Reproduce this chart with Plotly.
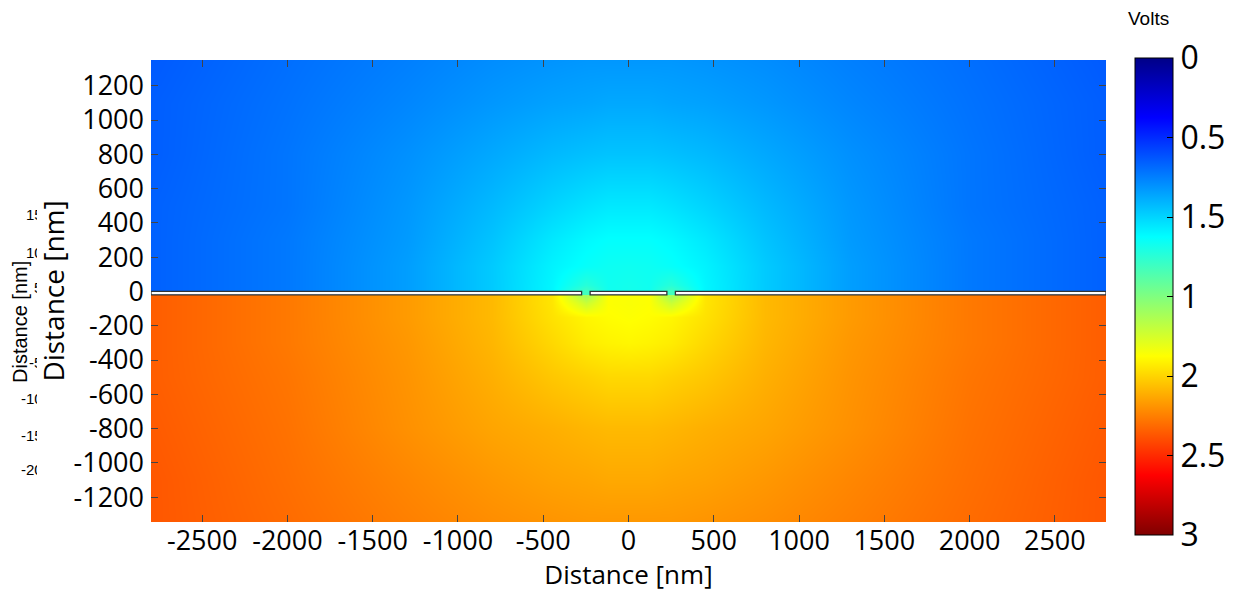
import plotly.graph_objects as go

# ---------------- data ----------------
x_nm = [-2800, -2000, -1300, -800, -450, -250, -120, 0, 120, 250, 450, 800, 1300, 2000, 2800]

# upper half (above the electrode strip), rows ordered by y ascending
y_top = [0, 40, 150, 300, 500, 800, 1100, 1350]
v_top = [
    [0.66, 0.73, 0.84, 0.97, 1.10, 1.32, 1.17, 1.18, 1.17, 1.32, 1.10, 0.97, 0.84, 0.73, 0.66],
    [0.66, 0.73, 0.84, 0.97, 1.10, 1.24, 1.17, 1.18, 1.17, 1.24, 1.10, 0.97, 0.84, 0.73, 0.66],
    [0.66, 0.73, 0.84, 0.97, 1.09, 1.14, 1.16, 1.165, 1.16, 1.14, 1.09, 0.97, 0.84, 0.73, 0.66],
    [0.66, 0.73, 0.83, 0.95, 1.06, 1.11, 1.13, 1.13, 1.13, 1.11, 1.06, 0.95, 0.83, 0.73, 0.66],
    [0.66, 0.72, 0.82, 0.92, 1.00, 1.04, 1.06, 1.06, 1.06, 1.04, 1.00, 0.92, 0.82, 0.72, 0.66],
    [0.65, 0.72, 0.80, 0.87, 0.92, 0.94, 0.95, 0.95, 0.95, 0.94, 0.92, 0.87, 0.80, 0.72, 0.65],
    [0.65, 0.71, 0.77, 0.82, 0.85, 0.86, 0.87, 0.87, 0.87, 0.86, 0.85, 0.82, 0.77, 0.71, 0.65],
    [0.64, 0.70, 0.75, 0.79, 0.81, 0.82, 0.82, 0.82, 0.82, 0.82, 0.81, 0.79, 0.75, 0.70, 0.64],
]

# lower half (below the strip), rows ordered by y ascending
y_bot = [-1350, -1100, -800, -500, -300, -150, -70, -22]
v_bot = [
    [2.37, 2.31, 2.25, 2.21, 2.19, 2.18, 2.18, 2.18, 2.18, 2.18, 2.19, 2.21, 2.25, 2.31, 2.37],
    [2.37, 2.30, 2.23, 2.18, 2.15, 2.14, 2.13, 2.13, 2.13, 2.14, 2.15, 2.18, 2.23, 2.30, 2.37],
    [2.36, 2.29, 2.20, 2.14, 2.11, 2.09, 2.08, 2.08, 2.08, 2.09, 2.11, 2.14, 2.20, 2.29, 2.36],
    [2.35, 2.28, 2.19, 2.11, 2.04, 2.01, 1.99, 1.99, 1.99, 2.01, 2.04, 2.11, 2.19, 2.28, 2.35],
    [2.35, 2.27, 2.18, 2.09, 1.99, 1.93, 1.91, 1.90, 1.91, 1.93, 1.99, 2.09, 2.18, 2.27, 2.35],
    [2.35, 2.27, 2.17, 2.08, 1.96, 1.90, 1.88, 1.87, 1.88, 1.90, 1.96, 2.08, 2.17, 2.27, 2.35],
    [2.35, 2.27, 2.17, 2.08, 1.95, 1.72, 1.87, 1.86, 1.87, 1.72, 1.95, 2.08, 2.17, 2.27, 2.35],
    [2.35, 2.27, 2.17, 2.08, 1.95, 1.58, 1.87, 1.86, 1.87, 1.58, 1.95, 2.08, 2.17, 2.27, 2.35],
]

# electrode strip segments [x0, x1] in nm and its y extent
strip_segments = [[-2800, -275], [-225, 225], [275, 2800]]
strip_y = [-20, 0]

x_ticks = [-2500, -2000, -1500, -1000, -500, 0, 500, 1000, 1500, 2000, 2500]
x_tick_labels = ["-2500", "-2000", "-1500", "-1000", "-500", "0", "500", "1000", "1500", "2000", "2500"]
y_ticks = [-1200, -1000, -800, -600, -400, -200, 0, 200, 400, 600, 800, 1000, 1200]
y_tick_labels = ["-1200", "-1000", "-800", "-600", "-400", "-200", "0", "200", "400", "600", "800", "1000", "1200"]

cbar_values = [0, 0.5, 1, 1.5, 2, 2.5, 3]
cbar_labels = ["0", "0.5", "1.5", "1", "2", "2.5", "3"]

# faint clipped tick labels of an underlying figure at the far left
ghost_labels = ["1500", "1000", "500", "-500", "-1000", "-1500", "-2000"]
ghost_y_px = [214, 252, 287, 362, 398, 435, 469]
ghost_x_px = [25, 25, 33, 28, 20, 20, 20]

# ---------------- figure ----------------
W, H = 1241, 592
ML, MR, MT, MB = 151, 135, 60, 70
PW, PH = W - ML - MR, H - MT - MB


def px2paper_x(px):
    return (px - ML) / PW


def px2paper_y(py):
    return (H - MB - py) / PH


# colours: jet, reversed because values are plotted as -V so that 0 sits on top
jet_rev = [
    [0.0, "rgb(128,0,0)"],
    [0.125, "rgb(255,0,0)"],
    [0.375, "rgb(255,255,0)"],
    [0.625, "rgb(0,255,255)"],
    [0.875, "rgb(0,0,255)"],
    [1.0, "rgb(0,0,135)"],
]

fig = go.Figure()
fig.add_trace(go.Heatmap(
    x=x_nm, y=y_bot, z=[[-v for v in row] for row in v_bot],
    coloraxis="coloraxis", zsmooth="best", hoverinfo="skip",
))
fig.add_trace(go.Heatmap(
    x=x_nm, y=y_top, z=[[-v for v in row] for row in v_top],
    coloraxis="coloraxis", zsmooth="best", hoverinfo="skip",
))

for x0, x1 in strip_segments:
    fig.add_shape(type="rect", xref="x", yref="y", x0=x0, x1=x1,
                  y0=strip_y[0], y1=strip_y[1],
                  fillcolor="white", line=dict(color="#333333", width=1.3), layer="above")

tick_font = dict(family="Open Sans", size=27, color="black")
axis_common = dict(showgrid=False, zeroline=False, showline=False,
                   ticks="inside", ticklen=7, tickwidth=1, tickcolor="#444444",
                   mirror="ticks", tickfont=tick_font)

fig.update_layout(
    width=W, height=H,
    margin=dict(l=ML, r=MR, t=MT, b=MB, autoexpand=False),
    paper_bgcolor="white", plot_bgcolor="white",
    xaxis=dict(range=[-2800, 2800], tickmode="array", tickvals=x_ticks, ticktext=x_tick_labels,
               title=dict(text="Distance [nm]", font=dict(family="Open Sans", size=26, color="black"),
                          standoff=6),
               **axis_common),
    yaxis=dict(range=[-1345, 1350], tickmode="array", tickvals=y_ticks, ticktext=y_tick_labels,
               ticklabelstandoff=6,
               title=dict(text="Distance [nm]", font=dict(family="Open Sans", size=28, color="black"),
                          standoff=0),
               **axis_common),
    coloraxis=dict(
        cmin=-3, cmax=0, colorscale=jet_rev,
        colorbar=dict(
            x=px2paper_x(1135), xanchor="left", xpad=0,
            y=px2paper_y(58), yanchor="top", ypad=0,
            thickness=38, thicknessmode="pixels",
            len=477, lenmode="pixels",
            outlinecolor="black", outlinewidth=1,
            tickmode="array", tickvals=[-v for v in cbar_values], ticktext=cbar_labels,
            ticks="inside", ticklen=6, tickcolor="black",
            tickfont=dict(family="Open Sans", size=32, color="black"),
        ),
    ),
    showlegend=False,
)

annotations = [
    dict(text="Volts", xref="paper", yref="paper", x=px2paper_x(1148), y=px2paper_y(18),
         xanchor="center", yanchor="middle", showarrow=False,
         font=dict(family="Liberation Sans", size=19, color="black")),
    dict(text="Distance [nm]", xref="paper", yref="paper", x=px2paper_x(20), y=px2paper_y(322),
         xanchor="center", yanchor="middle", showarrow=False, textangle=-90,
         font=dict(family="Liberation Sans", size=20, color="black")),
]
for lab, ypx, xpx in zip(ghost_labels, ghost_y_px, ghost_x_px):
    annotations.append(dict(
        text=lab, xref="paper", yref="paper", x=px2paper_x(xpx), y=px2paper_y(ypx),
        xanchor="left", yanchor="middle", align="left", showarrow=False,
        width=max(36 - xpx, 1), borderpad=0,
        font=dict(family="Liberation Sans", size=15, color="black")))
fig.update_layout(annotations=annotations)

fig.write_html("out.html")
